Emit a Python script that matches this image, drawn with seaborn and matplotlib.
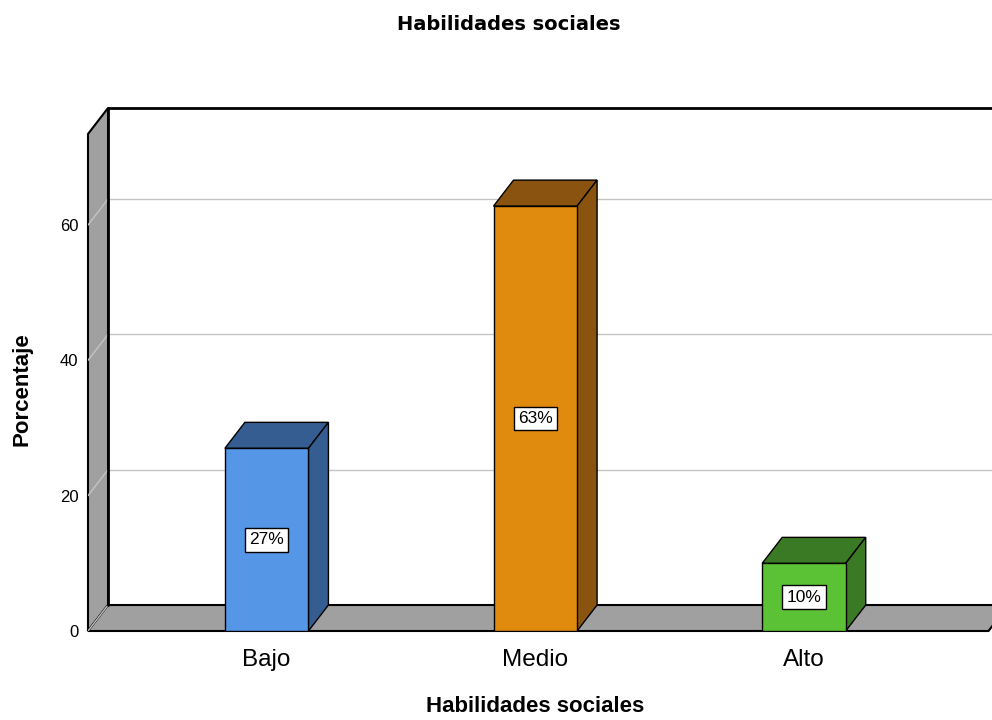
import numpy as np
import pandas as pd
import matplotlib.pyplot as plt
import seaborn as sns
from matplotlib.patches import Polygon

# datos
categorias = ["Bajo", "Medio", "Alto"]
porcentajes = [27.0, 62.8, 10.0]
etiquetas = ["27%", "63%", "10%"]
colores_frente = ["#5596E6", "#E08A0E", "#5BC236"]
colores_lado = ["#355D91", "#8A5410", "#3B7A25"]
ticks_y = [0, 20, 40, 60]

df = pd.DataFrame({"Habilidades sociales": categorias, "Porcentaje": porcentajes})

sns.set_style("white")
plt.rcParams['font.family'] = ['Liberation Sans', 'DejaVu Sans']
plt.rcParams['text.color'] = 'black'
plt.rcParams['axes.labelcolor'] = 'black'
plt.rcParams['xtick.color'] = 'black'
plt.rcParams['ytick.color'] = 'black'

W, H = 992, 720
fig = plt.figure(figsize=(W / 100, H / 100), dpi=100)
ax = fig.add_axes([88 / W, (H - 631) / H, (W - 88) / W, (631 - 108) / H])

x0, x1 = -0.665, 2.70
y0, y1 = 0, 77.3
dx, dy = 0.0745, 3.84  # desplazamiento de profundidad

sns.barplot(data=df, x="Habilidades sociales", y="Porcentaje", hue="Habilidades sociales",
            palette=colores_frente, width=0.311, edgecolor="black", linewidth=1,
            saturation=1, legend=False, ax=ax, zorder=4)
bars = list(ax.patches)

ax.set_xlim(x0, x1)
ax.set_ylim(y0, y1)

# paredes
pared_izq = Polygon([(x0, 0), (x0 + dx, dy), (x0 + dx, y1), (x0, y1 - dy)],
                    closed=True, facecolor="#a0a0a0", edgecolor="black", lw=1.5,
                    zorder=1, clip_on=False)
ax.add_patch(pared_izq)
suelo = Polygon([(x0, 0), (2.687, 0), (2.687 + dx, dy), (x0 + dx, dy)],
                closed=True, facecolor="#a0a0a0", edgecolor="black", lw=1.5,
                zorder=1, clip_on=False)
ax.add_patch(suelo)
ax.plot([x0 + dx, x0 + dx], [dy, y1], color="black", lw=2, zorder=2, clip_on=False)
ax.plot([x0 + dx, x1], [y1, y1], color="black", lw=2, zorder=2, clip_on=False)

for t in ticks_y:
    if t > 0:
        ax.plot([x0 + dx, x1], [t + dy, t + dy], color="#c4c4c4", lw=1, zorder=1.5)
    ax.plot([x0, x0 + dx], [t, t + dy], color="#c4c4c4", lw=1, zorder=1.5)

# caras 3D
for bar, lado, txt in zip(bars, colores_lado, etiquetas):
    bx, bw, bh = bar.get_x(), bar.get_width(), bar.get_height()
    top = Polygon([(bx, bh), (bx + bw, bh), (bx + bw + dx, bh + dy), (bx + dx, bh + dy)],
                  closed=True, facecolor=lado, edgecolor="black", lw=1, zorder=3)
    side = Polygon([(bx + bw, 0), (bx + bw + dx, dy), (bx + bw + dx, bh + dy), (bx + bw, bh)],
                   closed=True, facecolor=lado, edgecolor="black", lw=1, zorder=3)
    ax.add_patch(top)
    ax.add_patch(side)
    ax.text(bx + bw / 2, bh / 2, txt, ha="center", va="center", fontsize=12.5, zorder=6,
            bbox=dict(boxstyle="square,pad=0.25", facecolor="white", edgecolor="black", lw=1))

sns.despine(ax=ax, left=True, bottom=True)
ax.set_yticks(ticks_y)
ax.set_yticklabels([str(t) for t in ticks_y], fontsize=12)
ax.tick_params(axis="y", length=0, pad=7)
ax.tick_params(axis="x", length=0, pad=13, labelsize=17.5)
ax.set_facecolor("white")

ax.set_ylabel("Porcentaje", fontsize=16, fontweight="bold", labelpad=22)
ax.set_xlabel("Habilidades sociales", fontsize=16, fontweight="bold")
ax.xaxis.set_label_coords((535 - 88) / (W - 88), -(706 - 631) / (631 - 108), transform=ax.transAxes)
ax.xaxis.label.set_va("center")
ax.yaxis.set_label_coords(-(88 - 22) / (W - 88), (631 - 389) / (631 - 108))
ax.yaxis.label.set_va("center")

fig.text(509 / W, 1 - 25 / H, "Habilidades sociales", ha="center", va="center",
         fontsize=14, fontweight="bold", family="DejaVu Sans")

fig.savefig("out.png", dpi=100)
